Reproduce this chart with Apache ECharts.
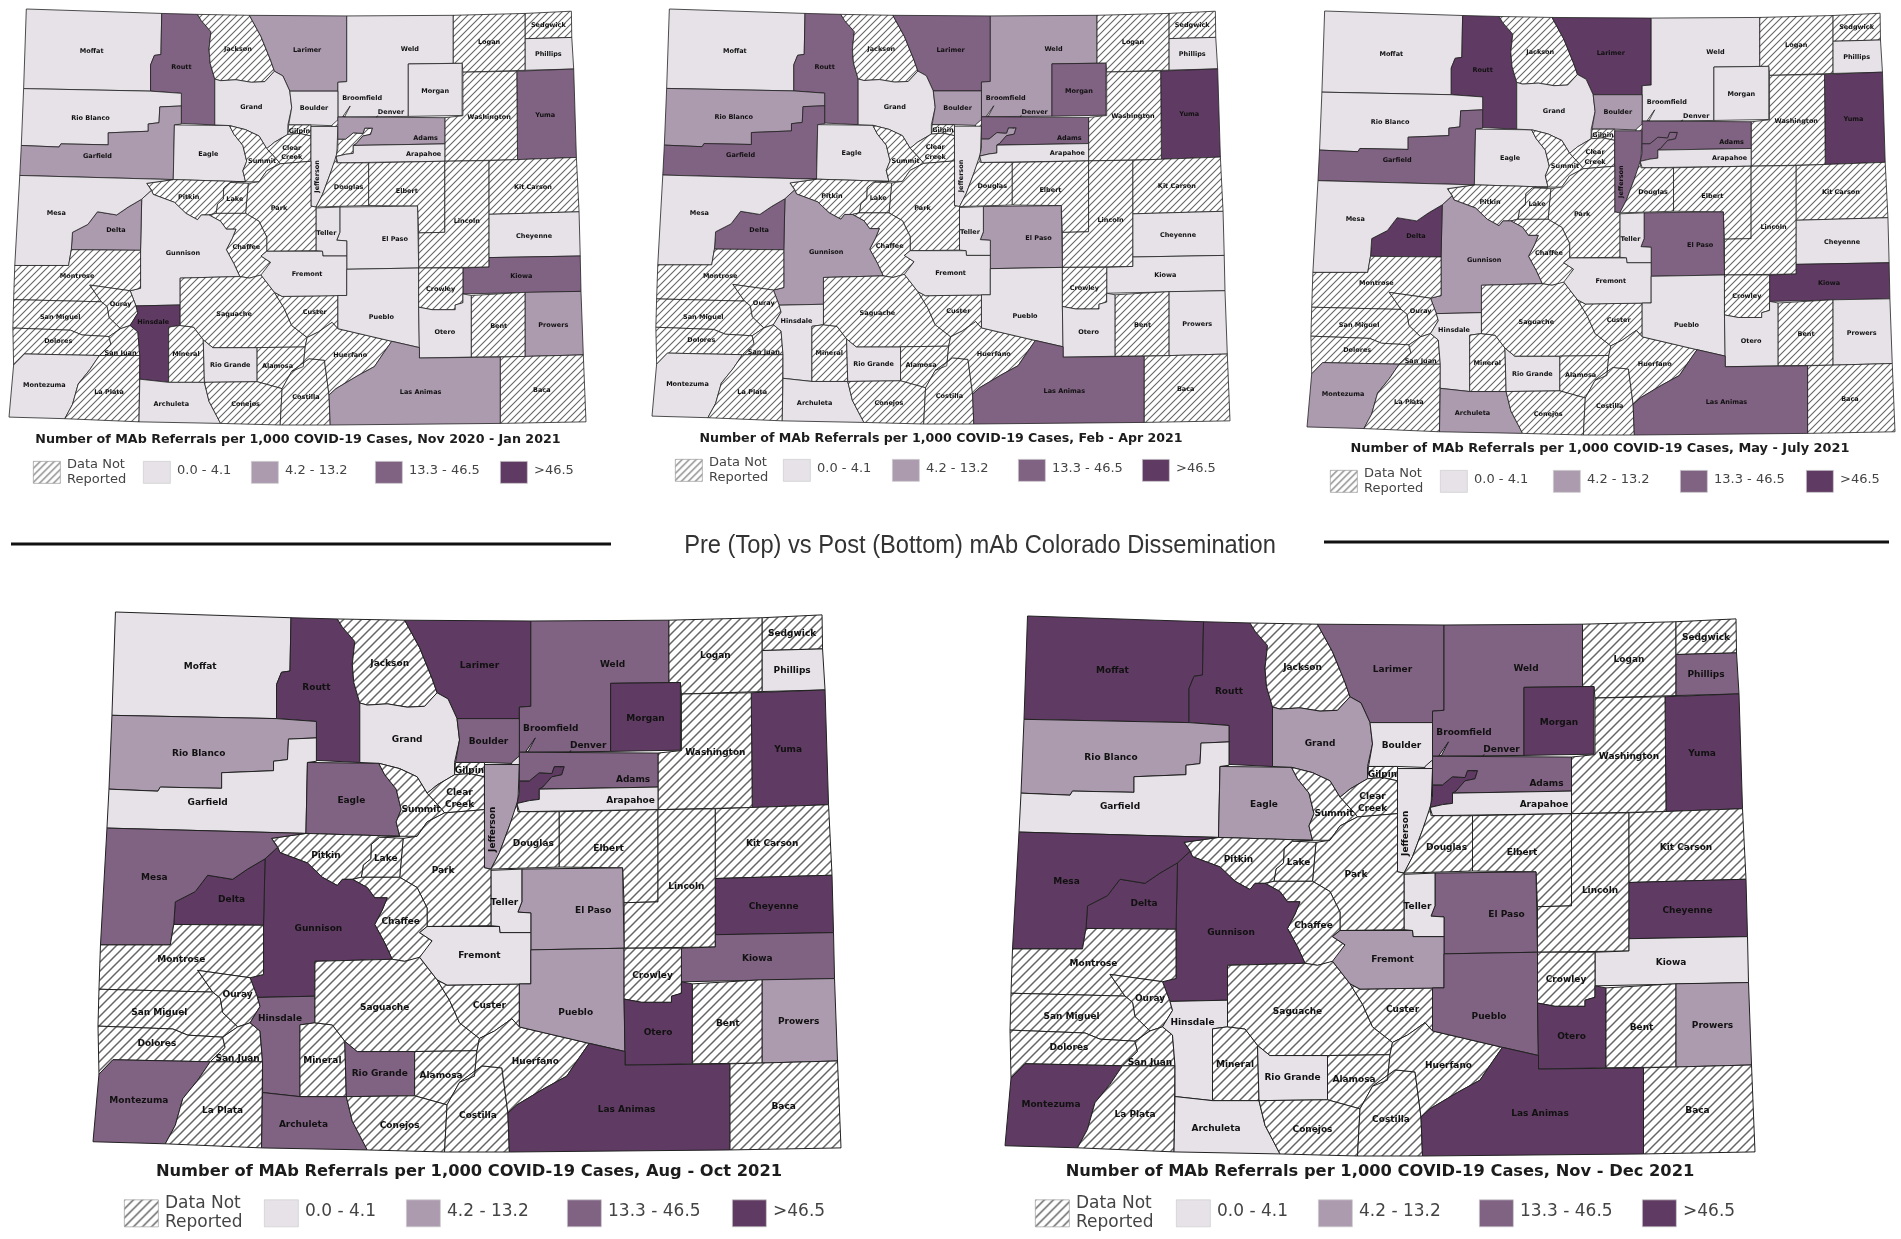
<!DOCTYPE html>
<html>
<head>
<meta charset="utf-8">
<style>html,body{margin:0;background:#fff}#main{width:1901px;height:1239px}</style>
<script src="https://cdn.jsdelivr.net/npm/echarts@6/dist/echarts.min.js"></script>
</head>
<body>
<div id="main"></div>
<script>
// county class per period; any county not listed is "Data Not Reported"
const novJan1 = ['Moffat','Rio Blanco','Mesa','Gunnison','Eagle','Grand','Weld','Morgan','Boulder','Jefferson','Arapahoe','Teller','El Paso','Fremont','Pueblo','Otero','Cheyenne','Phillips','Montezuma','Archuleta','Rio Grande'];
const novJan2 = ['Larimer','Garfield','Adams','Delta','Prowers','Las Animas'];
const novJan3 = ['Routt','Yuma','Kiowa'];
const novJan4 = ['Hinsdale'];

const febApr1 = ['Moffat','Mesa','Eagle','Grand','Jefferson','Arapahoe','Teller','Fremont','Pueblo','Otero','Cheyenne','Kiowa','Prowers','Phillips','Montezuma','Hinsdale','Archuleta','Rio Grande'];
const febApr2 = ['Rio Blanco','Boulder','Weld','Gunnison','El Paso','Denver'];
const febApr3 = ['Routt','Garfield','Larimer','Morgan','Adams','Delta','Las Animas'];
const febApr4 = ['Yuma'];

const mayJul1 = ['Moffat','Rio Blanco','Mesa','Grand','Eagle','Weld','Morgan','Arapahoe','Teller','Fremont','Pueblo','Otero','Cheyenne','Prowers','Phillips','Hinsdale','Rio Grande'];
const mayJul2 = ['Boulder','Gunnison','Montezuma','Archuleta'];
const mayJul3 = ['Garfield','Adams','Jefferson','El Paso','Las Animas','Denver'];
const mayJul4 = ['Routt','Larimer','Yuma','Delta','Kiowa'];

const augOct1 = ['Moffat','Garfield','Grand','Arapahoe','Teller','Fremont','Phillips','Broomfield'];
const augOct2 = ['Rio Blanco','Jefferson','El Paso','Pueblo','Prowers'];
const augOct3 = ['Boulder','Weld','Adams','Eagle','Mesa','Kiowa','Montezuma','Hinsdale','Rio Grande','Archuleta'];
const augOct4 = ['Routt','Larimer','Morgan','Yuma','Delta','Gunnison','Cheyenne','Otero','Las Animas','Denver'];

const novDec1 = ['Garfield','Boulder','Jefferson','Arapahoe','Teller','Kiowa','Hinsdale','Archuleta','Rio Grande','Broomfield'];
const novDec2 = ['Rio Blanco','Grand','Eagle','Fremont','Prowers'];
const novDec3 = ['Larimer','Weld','Adams','Phillips','El Paso','Pueblo'];
const novDec4 = ['Moffat','Routt','Morgan','Yuma','Mesa','Delta','Gunnison','Cheyenne','Otero','Las Animas','Montezuma','Denver'];

const titles = [
  'Number of MAb Referrals per 1,000 COVID-19 Cases, Nov 2020 - Jan 2021',
  'Number of MAb Referrals per 1,000 COVID-19 Cases, Feb - Apr 2021',
  'Number of MAb Referrals per 1,000 COVID-19 Cases, May - July 2021',
  'Number of MAb Referrals per 1,000 COVID-19 Cases, Aug - Oct 2021',
  'Number of MAb Referrals per 1,000 COVID-19 Cases, Nov - Dec 2021'
];
const legendLabels = ['0.0 - 4.1','4.2 - 13.2','13.3 - 46.5','>46.5'];
const classColors = ['#e6e2e8','#ac9aaf','#806282','#5f3a62'];

// county outlines, flat x,y lists, y pointing down
const outlines = {
  'Moffat':[[55,38,407,52,405,182,388,185,378,215,378,298,48,290]],
  'Routt':[[407,52,500,55,510,75,535,110,530,165,533,210,545,260,545,405,458,400,458,305,378,298,378,215,388,185,405,182]],
  'Jackson':[[500,55,635,58,665,125,690,200,700,235,675,268,640,270,600,262,560,265,545,260,533,210,530,165,535,110,510,75]],
  'Larimer':[[635,58,888,60,888,268,865,270,865,298,740,298,722,250,700,235,690,200,665,125]],
  'Weld':[[888,60,1165,58,1165,210,1048,212,1048,378,865,380,865,270,888,268]],
  'Logan':[[1165,58,1352,52,1352,232,1190,238,1188,210,1165,210]],
  'Sedgwick':[[1352,52,1472,45,1473,128,1352,132]],
  'Phillips':[[1352,132,1473,128,1478,228,1352,232]],
  'Morgan':[[1048,212,1188,210,1188,375,1048,378]],
  'Yuma':[[1330,235,1478,228,1485,508,1332,515]],
  'Washington':[[1190,238,1330,235,1332,515,1143,520,1143,382,1190,376]],
  'Rio Blanco':[[48,290,378,298,458,305,458,345,402,348,400,398,372,402,372,425,268,430,268,468,145,465,140,475,42,470]],
  'Garfield':[[42,470,140,475,145,465,268,468,268,430,372,425,372,402,400,398,402,348,458,345,458,402,440,405,437,578,38,565]],
  'Eagle':[[440,405,583,407,595,435,618,470,628,520,618,550,625,585,437,578]],
  'Grand':[[545,260,560,265,600,262,640,270,675,268,700,235,722,250,740,298,745,350,735,405,735,435,700,460,680,480,660,440,625,420,583,407,545,405]],
  'Boulder':[[740,298,865,298,865,408,795,405,737,405,745,350]],
  'Broomfield':[[850,405,862,392,880,378,888,382,875,398,862,418,848,415],[878,378,897,345,899,346,882,380]],
  'Gilpin':[[737,405,795,405,795,440,765,432,735,435]],
  'Clear Creek':[[735,435,765,432,795,440,795,520,715,528,710,520,680,480,700,460]],
  'Summit':[[583,407,625,420,660,440,680,480,710,520,715,528,680,550,660,585,625,585,618,550,628,520,618,470,595,435]],
  'Jefferson':[[795,410,865,410,862,505,845,560,825,625,808,665,795,662]],
  'Denver':[[865,450,885,450,905,430,930,432,935,415,955,415,950,435,930,440,912,465,905,470,905,495,885,498,860,505,865,480],[945,415,968,376,970,377,949,416]],
  'Adams':[[865,380,1143,382,1143,465,905,470,912,465,930,440,950,435,955,415,935,415,930,432,905,430,885,450,865,450]],
  'Arapahoe':[[905,470,1143,465,1143,520,865,525,860,505,885,498,905,495]],
  'Douglas':[[862,525,945,525,945,660,808,665,825,625,845,560,860,505]],
  'Elbert':[[945,525,1143,520,1143,745,1075,747,1072,662,945,660]],
  'Lincoln':[[1143,520,1258,518,1258,855,1075,858,1075,747,1143,745]],
  'Kit Carson':[[1258,518,1485,508,1492,680,1258,688]],
  'Cheyenne':[[1258,688,1492,680,1495,820,1258,825]],
  'Kiowa':[[1190,858,1258,855,1258,825,1495,820,1497,932,1190,940]],
  'El Paso':[[870,665,1072,662,1075,858,888,862,888,772,862,770,870,745]],
  'Teller':[[808,668,870,665,870,745,862,770,888,772,888,820,826,820,825,805,808,803]],
  'Park':[[715,528,795,520,795,662,808,665,808,803,680,805,680,760,660,710,625,685,632,590,660,585,680,550]],
  'Lake':[[585,587,632,590,625,685,548,685,552,655,567,640,568,605]],
  'Pitkin':[[368,590,437,578,625,585,585,587,568,605,567,640,552,655,548,685,530,690,510,690,500,705,470,685,440,650,385,625,380,610]],
  'Chaffee':[[548,685,625,685,660,710,680,760,680,805,665,820,690,840,670,880,635,890,610,885,595,845,575,800,590,765,600,735,575,735,560,710,530,690]],
  'Gunnison':[[380,612,385,625,440,650,470,685,500,705,510,690,530,690,560,710,575,735,600,735,590,765,575,800,595,845,610,885,455,890,455,975,340,978,325,930,352,922,352,802,355,640]],
  'Delta':[[355,640,320,665,290,690,240,680,215,720,175,745,172,800,352,802]],
  'Mesa':[[38,565,437,578,368,590,380,612,355,640,320,665,290,690,240,680,215,720,175,745,172,800,165,850,25,850]],
  'Montrose':[[172,800,352,802,352,922,325,930,220,912,250,965,22,958,25,850,165,850]],
  'Ouray':[[220,912,325,930,340,978,345,1000,325,1040,300,1050,270,1015,265,980,250,965]],
  'San Miguel':[[22,958,250,965,265,980,270,1015,300,1050,270,1075,200,1070,170,1055,20,1048]],
  'Dolores':[[20,1048,170,1055,200,1070,270,1075,275,1100,245,1135,50,1130,22,1165]],
  'San Juan':[[300,1050,325,1040,345,1060,350,1135,245,1135,275,1100,270,1075]],
  'Montezuma':[[50,1130,245,1135,220,1180,190,1225,175,1290,155,1335,10,1330,22,1165]],
  'La Plata':[[245,1135,350,1135,348,1345,155,1335,175,1290,190,1225,220,1180]],
  'Hinsdale':[[340,978,455,975,455,1040,425,1045,425,1220,350,1210,350,1135,345,1060,325,1040,345,1000]],
  'Mineral':[[425,1045,455,1040,490,1045,515,1085,518,1220,425,1220]],
  'Archuleta':[[350,1210,425,1220,518,1220,530,1280,560,1350,348,1345]],
  'Rio Grande':[[515,1085,540,1110,655,1110,655,1218,518,1220]],
  'Saguache':[[455,890,610,885,635,890,665,880,700,935,725,985,745,1040,785,1078,780,1108,655,1110,540,1110,515,1085,490,1045,455,1040]],
  'Alamosa':[[655,1110,780,1108,775,1170,745,1185,720,1240,655,1218]],
  'Conejos':[[518,1220,655,1218,720,1240,715,1355,560,1350,530,1280]],
  'Costilla':[[720,1240,745,1185,790,1145,830,1150,842,1260,845,1355,715,1355]],
  'Custer':[[700,935,720,948,865,945,865,1050,850,1030,815,1060,785,1078,745,1040,725,985]],
  'Huerfano':[[785,1078,815,1060,850,1030,865,1050,1005,1090,985,1125,960,1170,915,1200,860,1240,842,1260,830,1150,790,1145,745,1185,775,1170,780,1108]],
  'Fremont':[[665,880,690,840,665,820,680,805,825,805,826,820,888,820,888,945,720,948,700,935]],
  'Pueblo':[[888,862,1075,858,1075,982,1077,1110,1005,1090,865,1050,865,945,888,945]],
  'Crowley':[[1075,858,1190,858,1190,968,1170,975,1170,990,1110,990,1075,982]],
  'Otero':[[1075,982,1110,990,1170,990,1170,975,1190,968,1190,940,1212,945,1212,1140,1077,1143]],
  'Bent':[[1212,945,1352,935,1352,1138,1212,1140]],
  'Prowers':[[1352,935,1497,932,1503,1133,1352,1138]],
  'Baca':[[1287,1140,1503,1133,1510,1345,1287,1350]],
  'Las Animas':[[1005,1090,1077,1110,1077,1143,1287,1140,1287,1350,845,1355,842,1260,860,1240,915,1200,960,1170,985,1125]]
};
// label anchor of each county
const anchors = {
  'Moffat':[225,172],'Routt':[458,222],'Jackson':[605,165],'Larimer':[785,168],'Weld':[1052,166],'Logan':[1258,145],
  'Sedgwick':[1412,90],'Phillips':[1412,182],'Morgan':[1118,298],'Yuma':[1404,373],'Washington':[1258,380],
  'Rio Blanco':[222,383],'Garfield':[240,503],'Eagle':[528,497],'Grand':[640,349],'Boulder':[803,353],
  'Broomfield':[928,322],'Denver':[1003,365],'Gilpin':[765,424],'Clear Creek':[745,493],'Summit':[668,520],
  'Jefferson':[812,568],'Adams':[1093,447],'Arapahoe':[1088,497],'Douglas':[893,602],'Elbert':[1044,614],
  'Lincoln':[1200,709],'Kit Carson':[1372,602],'Cheyenne':[1375,757],'Kiowa':[1342,883],'El Paso':[1013,767],
  'Teller':[835,747],'Park':[712,670],'Lake':[597,640],'Pitkin':[477,633],'Chaffee':[627,792],'Gunnison':[462,811],
  'Delta':[288,739],'Mesa':[133,686],'Montrose':[187,885],'Ouray':[300,972],'San Miguel':[143,1015],
  'Dolores':[138,1091],'San Juan':[300,1127],'Montezuma':[102,1230],'La Plata':[270,1253],'Hinsdale':[385,1030],
  'Mineral':[470,1132],'Archuleta':[432,1288],'Rio Grande':[585,1165],'Saguache':[595,1004],'Alamosa':[708,1170],
  'Conejos':[625,1290],'Costilla':[782,1266],'Huerfano':[897,1135],'Custer':[805,998],'Fremont':[785,877],
  'Pueblo':[978,1014],'Crowley':[1132,925],'Otero':[1143,1063],'Bent':[1283,1042],'Prowers':[1425,1038],
  'Baca':[1395,1245],'Las Animas':[1080,1252]
};

const features = Object.keys(outlines).map(name => {
  const rings = outlines[name].map(flat => {
    let ring = [];
    for (let i = 0; i < flat.length; i += 2) ring.push([flat[i], -flat[i + 1]]);
    ring.push(ring[0]);
    return [ring];
  });
  return {
    type: 'Feature',
    properties: { name: name, cp: [anchors[name][0], -anchors[name][1]] },
    geometry: { type: 'MultiPolygon', coordinates: rings }
  };
});
const geoJson = { type: 'FeatureCollection', features: features };

function hatch(size, width, color) {
  const c = document.createElement('canvas');
  c.width = size; c.height = size;
  const g = c.getContext('2d');
  g.fillStyle = '#fff';
  g.fillRect(0, 0, size, size);
  g.strokeStyle = color;
  g.lineWidth = width;
  g.beginPath();
  g.moveTo(-1, size + 1); g.lineTo(size + 1, -1);
  g.moveTo(-1, 1); g.lineTo(1, -1);
  g.moveTo(size - 1, size + 1); g.lineTo(size + 1, size - 1);
  g.stroke();
  return { image: c, repeat: 'repeat' };
}
const hatchSmall = hatch(7, 1.1, '#666');
const hatchBig = hatch(9, 1.5, '#666');

const panels = [
  { classes: [novJan1, novJan2, novJan3, novJan4], box: [9, 9, 577, 416], font: 6.5, line: 0.8, titleAt: [293, 435], titleSize: 12.7,
    legendY: 472, swatches: [143, 251, 375, 500], hatchX: 33, legendFont: 13, sw: 27 },
  { classes: [febApr1, febApr2, febApr3, febApr4], box: [652, 9, 578, 415], font: 6.5, line: 0.8, titleAt: [936, 434], titleSize: 12.6,
    legendY: 470, swatches: [783, 892, 1018, 1142], hatchX: 675, legendFont: 13, sw: 27 },
  { classes: [mayJul1, mayJul2, mayJul3, mayJul4], box: [1307, 11, 588, 424], font: 6.5, line: 0.8, titleAt: [1595, 444], titleSize: 12.9,
    legendY: 481, swatches: [1440, 1553, 1680, 1806], hatchX: 1330, legendFont: 13, sw: 27 },
  { classes: [augOct1, augOct2, augOct3, augOct4], box: [93, 612, 748, 540], font: 9, line: 1, titleAt: [464, 1167], titleSize: 16.3,
    legendY: 1213, swatches: [264, 406, 567, 732], hatchX: 124, legendFont: 17, sw: 34 },
  { classes: [novDec1, novDec2, novDec3, novDec4], box: [1005, 616, 750, 540], font: 9, line: 1, titleAt: [1375, 1167], titleSize: 16.3,
    legendY: 1213, swatches: [1176, 1318, 1479, 1642], hatchX: 1035, legendFont: 17, sw: 34 }
];

const series = [];
const graphic = [];
const title = [];
const textColor = '#111';

panels.forEach((p, i) => {
  const mapName = 'colorado' + i;
  echarts.registerMap(mapName, geoJson);
  const pattern = i < 3 ? hatchSmall : hatchBig;
  const data = features.map(f => {
    const name = f.properties.name;
    let fill = pattern;
    p.classes.forEach((list, k) => {
      if (list.indexOf(name) >= 0) fill = classColors[k];
    });
    const item = { name: name, value: 1, itemStyle: { areaColor: fill } };
    if (name === 'Jefferson') item.label = { rotate: 90 };
    if (name === 'Clear Creek') item.label = { formatter: 'Clear\nCreek' };
    return item;
  });
  series.push({
    type: 'map',
    map: mapName,
    left: p.box[0], top: p.box[1], width: p.box[2], height: p.box[3],
    aspectScale: (p.box[2] / p.box[3]) / (1500 / 1317),
    roam: false,
    silent: true,
    selectedMode: false,
    showLegendSymbol: false,
    emphasis: { disabled: true },
    itemStyle: { borderColor: '#222', borderWidth: p.line },
    label: { show: true, fontFamily: 'DejaVu Sans', fontWeight: 'bold', fontSize: p.font, color: textColor, lineHeight: p.font + 3 },
    data: data
  });
  title.push({
    text: titles[i], left: p.titleAt[0], top: p.titleAt[1], textAlign: 'center', textVerticalAlign: 'middle',
    textStyle: { fontFamily: 'DejaVu Sans', fontWeight: 'bold', fontSize: p.titleSize, color: '#1c1c1c' }
  });
  // legend row
  const h = Math.round(p.sw * 0.8);
  graphic.push({
    type: 'rect', left: p.hatchX, top: p.legendY - h / 2, silent: true,
    shape: { width: p.sw, height: h }, style: { fill: pattern, stroke: '#999', lineWidth: 0.7 }
  });
  graphic.push({
    type: 'text', left: p.hatchX + p.sw + 7, top: p.legendY - p.legendFont * 1.15, silent: true,
    style: { text: 'Data Not\nReported', fontFamily: 'DejaVu Sans', fontSize: p.legendFont, lineHeight: p.legendFont * 1.15, fill: '#444' }
  });
  legendLabels.forEach((lab, k) => {
    graphic.push({
      type: 'rect', left: p.swatches[k], top: p.legendY - h / 2, silent: true,
      shape: { width: p.sw, height: h }, style: { fill: classColors[k], stroke: '#ccc', lineWidth: 0.7 }
    });
    graphic.push({
      type: 'text', left: p.swatches[k] + p.sw + 7, top: p.legendY - p.legendFont * 0.6, silent: true,
      style: { text: lab, fontFamily: 'DejaVu Sans', fontSize: p.legendFont, fill: '#444' }
    });
  });
});

// middle caption is a condensed face in the original, squeeze a plain sans
graphic.push({
  type: 'text', x: 980, y: 546, scaleX: 0.91, silent: true,
  style: { text: 'Pre (Top) vs Post (Bottom) mAb Colorado Dissemination', fontFamily: 'Liberation Sans', fontSize: 26, fill: '#333', textAlign: 'center', textVerticalAlign: 'middle' }
});
graphic.push({ type: 'line', silent: true, shape: { x1: 11, y1: 544, x2: 611, y2: 544 }, style: { stroke: '#111', lineWidth: 3 } });
graphic.push({ type: 'line', silent: true, shape: { x1: 1324, y1: 542, x2: 1889, y2: 542 }, style: { stroke: '#111', lineWidth: 3 } });

const myChart = echarts.init(document.getElementById('main'));
myChart.setOption({
  backgroundColor: '#fff',
  animation: false,
  title: title,
  series: series,
  graphic: graphic
});
</script>
</body>
</html>
